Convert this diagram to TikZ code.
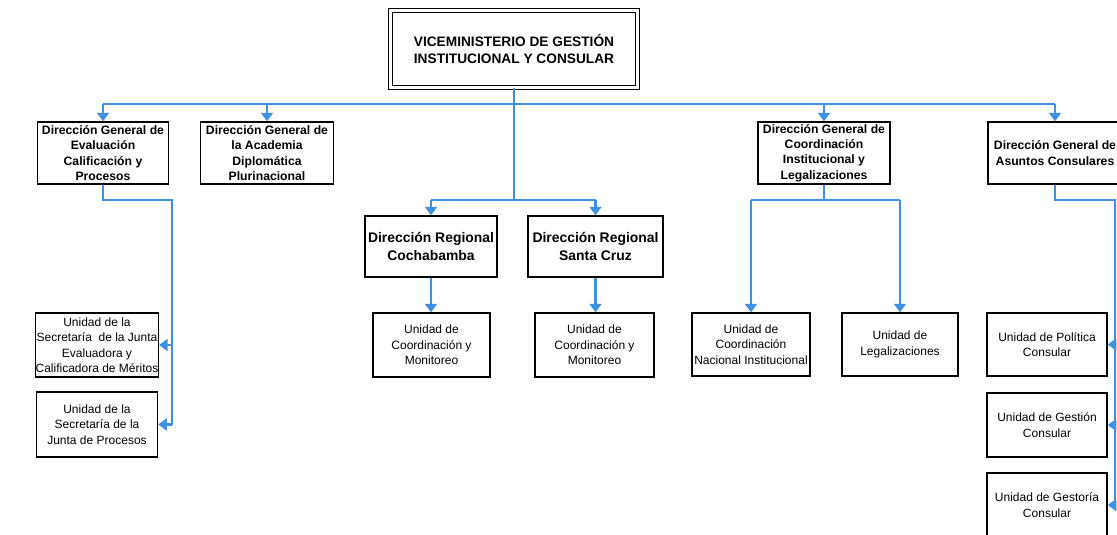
\documentclass[tikz,border=0pt]{standalone}
\usepackage{fontspec}
\setmainfont{Liberation Sans}
\usetikzlibrary{arrows.meta}
\definecolor{conn}{RGB}{62,145,225}
\tikzset{
  box/.style={draw=black, line width=1.5pt, fill=white, align=center, inner sep=0pt},
  dirbox/.style={box, font=\fontsize{12.2}{15.3}\selectfont\bfseries},
  regbox/.style={box, font=\fontsize{13.9}{18}\selectfont\bfseries},
  unitbox/.style={box, font=\fontsize{12}{15.5}\selectfont},
  link/.style={draw=conn, line width=2.1pt},
  arr/.style={link, -{Triangle[length=8.5pt,width=12pt]}},
}
\begin{document}
\begin{tikzpicture}[x=1pt,y=-1pt]
\useasboundingbox (0,0) rectangle (1117,535);
\clip (0,0) rectangle (1117,535);
\fill[white] (0,0) rectangle (1117,535);

% nodes
\node[box, line width=1.4pt, double, double distance=2.6pt, minimum width=247, minimum height=77,
      font=\fontsize{13.7}{17}\selectfont\bfseries] (top) at (514,49)
      {VICEMINISTERIO DE GESTIÓN\\INSTITUCIONAL Y CONSULAR};

\node[dirbox, minimum width=131, minimum height=62] (b1) at (103,153)
  {Dirección General de\\Evaluación\\Calificación y\\Procesos};
\node[dirbox, minimum width=133, minimum height=62] (b2) at (267,153)
  {Dirección General de\\la Academia\\Diplomática\\Plurinacional};
\node[dirbox, minimum width=132, minimum height=62] (b4) at (824,153)
  {Dirección General de\\Coordinación\\Institucional y\\Legalizaciones};
\node[dirbox, minimum width=134, minimum height=62] (b5) at (1055,153)
  {Dirección General de\\Asuntos Consulares};

\node[regbox, minimum width=132, minimum height=61] (r1) at (431,246.5)
  {Dirección Regional\\Cochabamba};
\node[regbox, minimum width=135, minimum height=61] (r2) at (595.5,246.5)
  {Dirección Regional\\Santa Cruz};

\node[unitbox, minimum width=117, minimum height=64] (ru1) at (431.5,345)
  {Unidad de\\Coordinación y\\Monitoreo};
\node[unitbox, minimum width=119, minimum height=64] (ru2) at (594.5,345)
  {Unidad de\\Coordinación y\\Monitoreo};

\node[unitbox, minimum width=121, minimum height=64] (u1) at (97,345)
  {Unidad de la\\Secretaría\ \ de la Junta\\Evaluadora y\\Calificadora de Méritos};
\node[unitbox, minimum width=121, minimum height=65] (u2) at (97,424.5)
  {Unidad de la\\Secretaría de la\\Junta de Procesos};

\node[unitbox, minimum width=118, minimum height=63] (cu1) at (751,344.5)
  {Unidad de\\Coordinación\\Nacional Institucional};
\node[unitbox, minimum width=116, minimum height=63] (cu2) at (900,344.5)
  {Unidad de\\Legalizaciones};

\node[unitbox, minimum width=120, minimum height=63] (a1) at (1047,344.5)
  {Unidad de Política\\Consular};
\node[unitbox, minimum width=120, minimum height=64] (a2) at (1047,425)
  {Unidad de Gestión\\Consular};
\node[unitbox, minimum width=120, minimum height=64] (a3) at (1047,505)
  {Unidad de Gestoría\\Consular};

% junction coordinates
\coordinate (h1) at (514,104);
\coordinate (h2) at (514,200);
\coordinate (h4) at (824,200);
\coordinate (v1) at (172,200);
\coordinate (v5) at (1115,200);

% main trunk
\draw[link] (top.south) -- (h2);
\draw[link] (b1.north |- h1) -- (b5.north |- h1);
\foreach \n in {b1,b2,b4,b5} \draw[arr] (\n.north |- h1) -- (\n.north);

% regional
\draw[link] (r1.north |- h2) -- (r2.north |- h2);
\draw[arr] (r1.north |- h2) -- (r1.north);
\draw[arr] (r2.north |- h2) -- (r2.north);
\draw[arr] (r1.south) -- (r1.south |- ru1.north);
\draw[arr] (r2.south) -- (r2.south |- ru2.north);

% coordination
\draw[link] (b4.south) -- (h4);
\draw[link] (cu1.north |- h4) -- (cu2.north |- h4);
\draw[arr] (cu1.north |- h4) -- (cu1.north);
\draw[arr] (cu2.north |- h4) -- (cu2.north);

% evaluation
\draw[link] (b1.south) |- (v1) -- (v1 |- u2.east);
\draw[arr] (v1 |- u1.east) -- (u1.east);
\draw[arr] (v1 |- u2.east) -- (u2.east);

% consular
\draw[link] (b5.south) |- (v5) -- (v5 |- a3.east);
\draw[arr] (v5 |- a1.east) -- (a1.east);
\draw[arr] (v5 |- a2.east) -- (a2.east);
\draw[arr] (v5 |- a3.east) -- (a3.east);
\end{tikzpicture}
\end{document}
